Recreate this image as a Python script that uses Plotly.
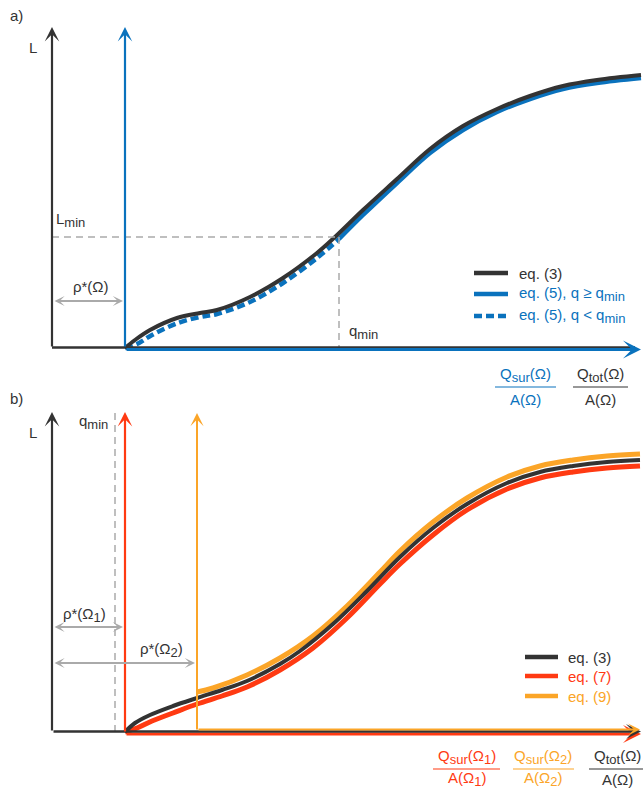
import plotly.graph_objects as go

# ---------------- Data (arbitrary schematic units) ----------------
# Panel a: L versus specific discharge
QA_EQ3 = [73, 83, 98, 125, 148, 165, 198, 231, 265, 283, 311, 345, 378, 411, 445, 478, 511, 545, 589]
LA_EQ3 = [0, 8, 18, 30, 35, 38, 51, 70, 95, 111, 138, 169, 199, 222, 239, 252, 262, 268, 273]
QA_EQ5 = [73, 85, 100, 126, 148, 165, 198, 231, 265, 287, 311, 345, 378, 411, 445, 478, 511, 545, 589]
LA_EQ5 = [0, 4, 13, 25, 31, 34, 46, 65, 90, 109, 133, 165, 195, 218, 236, 249, 259, 265, 270]
Q_MIN_A = 287
L_MIN_A = 111
RHO_A = 73
AXIS_TOP_A = 321
AXIS_END_A = 589

# Panel b
QB_EQ3 = [73, 83, 98, 121, 145, 170, 195, 228, 248, 281, 315, 348, 381, 415, 455, 488, 521, 555, 588]
LB_EQ3 = [0, 9, 17, 26, 34, 42, 51, 68, 81, 108, 141, 175, 204, 228, 249, 260, 266, 270, 272]
QB_EQ7 = [73, 85, 100, 121, 145, 170, 195, 228, 261, 295, 328, 348, 381, 415, 455, 488, 521, 555, 588]
LB_EQ7 = [0, 4, 11, 19, 28, 36, 45, 62, 84, 114, 148, 168, 197, 222, 243, 254, 260, 264, 266]
QB_EQ9 = [145, 161, 195, 228, 261, 295, 328, 348, 381, 415, 455, 488, 521, 555, 588]
LB_EQ9 = [40, 44, 57, 74, 96, 126, 160, 181, 210, 234, 255, 266, 272, 276, 278]
RHO_B1 = 73
RHO_B2 = 145
Q_MIN_B = 63
AXIS_TOP_B = 320
AXIS_END_B = 589

DARK = "#333333"
BLUE = "#0a72bd"
RED = "#ff3a12"
ORANGE = "#fba528"
GRAY = "#aaaaaa"
FONT = "Liberation Sans, Arial, sans-serif"
FS = 15


def sub(s):
    return "<sub><span style='font-size:13px'>%s</span></sub>" % s


fig = go.Figure()

# ---- Panel a curves ----
dash_idx = [i for i, q in enumerate(QA_EQ5) if q <= Q_MIN_A]
solid_idx = [i for i, q in enumerate(QA_EQ5) if q >= Q_MIN_A]
fig.add_trace(go.Scatter(x=[QA_EQ5[i] for i in dash_idx], y=[LA_EQ5[i] for i in dash_idx],
                         mode="lines", line=dict(color=BLUE, width=4.5, dash="8px,4px", shape="spline"),
                         xaxis="x", yaxis="y", showlegend=False, hoverinfo="skip"))
fig.add_trace(go.Scatter(x=[QA_EQ5[i] for i in solid_idx], y=[LA_EQ5[i] for i in solid_idx],
                         mode="lines", line=dict(color=BLUE, width=4.5, shape="spline"),
                         xaxis="x", yaxis="y", showlegend=False, hoverinfo="skip"))
fig.add_trace(go.Scatter(x=QA_EQ3, y=LA_EQ3, mode="lines",
                         line=dict(color=DARK, width=4, shape="spline"),
                         xaxis="x", yaxis="y", showlegend=False, hoverinfo="skip"))

# ---- Panel b curves ----
fig.add_trace(go.Scatter(x=QB_EQ7, y=LB_EQ7, mode="lines",
                         line=dict(color=RED, width=5, shape="spline"),
                         xaxis="x2", yaxis="y2", showlegend=False, hoverinfo="skip"))
fig.add_trace(go.Scatter(x=QB_EQ9, y=LB_EQ9, mode="lines",
                         line=dict(color=ORANGE, width=5, shape="spline"),
                         xaxis="x2", yaxis="y2", showlegend=False, hoverinfo="skip"))
fig.add_trace(go.Scatter(x=QB_EQ3, y=LB_EQ3, mode="lines",
                         line=dict(color=DARK, width=4, shape="spline"),
                         xaxis="x2", yaxis="y2", showlegend=False, hoverinfo="skip"))

shapes = []
annotations = []


def arrow(ref, x0, y0, x1, y1, color, width=2, size=1.1, head=3, side="end"):
    annotations.append(dict(
        xref="x" + ref, yref="y" + ref, axref="x" + ref, ayref="y" + ref,
        x=x1, y=y1, ax=x0, ay=y0, text="", showarrow=True,
        arrowhead=head, startarrowhead=head, arrowsize=size, startarrowsize=size,
        arrowwidth=width, arrowcolor=color, arrowside=side, standoff=0, startstandoff=0))


def line(ref, x0, y0, x1, y1, color, width=1.5, dash=None):
    shapes.append(dict(type="line", xref="x" + ref, yref="y" + ref, x0=x0, y0=y0, x1=x1, y1=y1,
                       line=dict(color=color, width=width, dash=dash) if dash else dict(color=color, width=width)))


def text(ref, x, y, s, color=DARK, size=FS, xanchor="center", yanchor="middle"):
    annotations.append(dict(xref="x" + ref, yref="y" + ref, x=x, y=y, text=s, showarrow=False,
                            font=dict(family=FONT, size=size, color=color),
                            xanchor=xanchor, yanchor=yanchor))


# ---------------- Panel a decorations ----------------
ra = ""
line(ra, 0, L_MIN_A, Q_MIN_A, L_MIN_A, GRAY, 1.5, "7px,5px")
line(ra, Q_MIN_A, L_MIN_A, Q_MIN_A, 0, GRAY, 1.5, "7px,5px")
line(ra, 0, 0.5, AXIS_END_A - 6, 0.5, DARK, 2.5)
arrow(ra, RHO_A, -1.5, AXIS_END_A, -1.5, BLUE, 3, 1.0)
arrow(ra, 0, 0, 0, AXIS_TOP_A, DARK, 2.2, 1.1)
arrow(ra, RHO_A, 0, RHO_A, AXIS_TOP_A, BLUE, 2.2, 1.1)
arrow(ra, 1, 47, RHO_A - 2, 47, GRAY, 2, 0.85, 3, "end+start")

text(ra, -44, 333, "a)", xanchor="left")
text(ra, -19, 301, "L")
text(ra, 2, 116, "L" + sub("min"), xanchor="left", yanchor="bottom")
text(ra, 39, 62, "ρ*(Ω)")
text(ra, 295, 16, "q" + sub("min"), xanchor="left")

# legend a
leg_a = [(75, DARK, None, "eq. (3)"),
         (54, BLUE, None, "eq. (5), q ≥ q" + sub("min")),
         (32, BLUE, "8px,4px", "eq. (5), q &lt; q" + sub("min"))]
for yy, c, d, s in leg_a:
    line(ra, 422, yy, 456, yy, c, 4.5, d)
    text(ra, 465, yy, s, color=c, xanchor="left")

# fractions a
for cx, x0, x1, c, num, den in [(473, 443, 504, BLUE, "Q" + sub("sur") + "(Ω)", "A(Ω)"),
                                  (548, 521, 576, DARK, "Q" + sub("tot") + "(Ω)", "A(Ω)")]:
    text(ra, cx, -27, num, color=c)
    line(ra, x0, -39, x1, -39, c, 1.2)
    text(ra, cx, -51, den, color=c)

# ---------------- Panel b decorations ----------------
rb = "2"
line(rb, Q_MIN_B, 0, Q_MIN_B, AXIS_TOP_B - 1, GRAY, 1.5, "7px,5px")
arrow(rb, RHO_B1, -2, AXIS_END_B, -2, RED, 3, 1.0)
arrow(rb, 0, 0.5, AXIS_END_B, 0.5, DARK, 2.5, 1.0)
arrow(rb, RHO_B2, 2.5, AXIS_END_B - 1, 2.5, ORANGE, 2, 1.0)
arrow(rb, 0, 0, 0, AXIS_TOP_B, DARK, 2.2, 1.1)
arrow(rb, RHO_B1, -1, RHO_B1, AXIS_TOP_B, RED, 2.2, 1.1)
arrow(rb, RHO_B2, 1, RHO_B2, AXIS_TOP_B - 1, ORANGE, 2, 1.1)
arrow(rb, 1, 105, RHO_B1 - 2, 105, GRAY, 2, 0.85, 3, "end+start")
arrow(rb, 1, 69, RHO_B2 - 2, 69, GRAY, 2, 0.85, 3, "end+start")

text(rb, -44, 334, "b)", xanchor="left")
text(rb, -19, 300, "L")
text(rb, 58, 310, "q" + sub("min"), xanchor="right")
text(rb, 32, 117, "ρ*(Ω" + sub("1") + ")")
text(rb, 109, 82, "ρ*(Ω" + sub("2") + ")")

leg_b = [(75, DARK, "eq. (3)"), (56, RED, "eq. (7)"), (36, ORANGE, "eq. (9)")]
for yy, c, s in leg_b:
    line(rb, 473, yy, 506, yy, c, 4.5)
    text(rb, 514, yy, s, color=c, xanchor="left")

for cx, x0, x1, c, num, den in [(415, 381, 448, RED, "Q" + sub("sur") + "(Ω" + sub("1") + ")", "A(Ω" + sub("1") + ")"),
                                  (491, 461, 522, ORANGE, "Q" + sub("sur") + "(Ω" + sub("2") + ")", "A(Ω" + sub("2") + ")"),
                                  (565, 537, 591, DARK, "Q" + sub("tot") + "(Ω)", "A(Ω)")]:
    text(rb, cx, -25, num, color=c)
    line(rb, x0, -37, x1, -37, c, 1.2)
    text(rb, cx, -47, den, color=c)

H = 789.0
ax_common = dict(visible=False, showgrid=False, zeroline=False, fixedrange=True)
fig.update_layout(
    width=644, height=789,
    margin=dict(l=0, r=0, t=0, b=0),
    paper_bgcolor="white", plot_bgcolor="rgba(0,0,0,0)",
    showlegend=False,
    xaxis=dict(domain=[0, 1], range=[-52, 592], anchor="y", **ax_common),
    yaxis=dict(domain=[1 - 410 / H, 1], range=[-62, 348], anchor="x", **ax_common),
    xaxis2=dict(domain=[0, 1], range=[-52, 592], anchor="y2", **ax_common),
    yaxis2=dict(domain=[0, 1 - 390 / H], range=[-57, 342], anchor="x2", **ax_common),
    shapes=shapes,
    annotations=annotations,
    font=dict(family=FONT, size=FS, color=DARK),
)

fig.write_html("out.html")
